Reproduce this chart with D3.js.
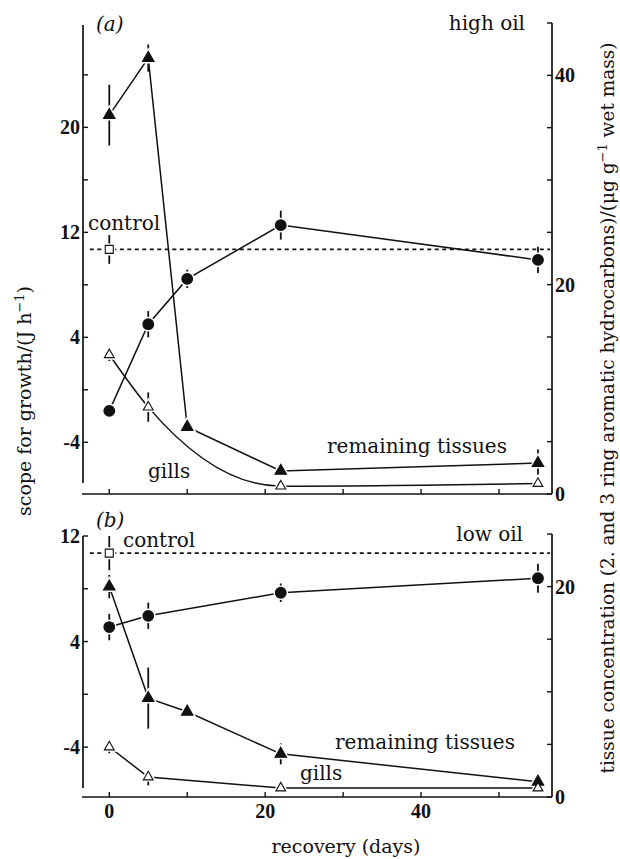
<!DOCTYPE html>
<html>
<head>
<meta charset="utf-8">
<script src="https://cdn.jsdelivr.net/npm/d3@7"></script>
<style>
  body { margin: 0; background: #fff; }
  svg text { font-family: "DejaVu Serif", serif; fill: #111; }
  .tick-label { font-family: "Liberation Serif", serif; font-weight: bold; font-size: 20px; }
</style>
</head>
<body>
<svg id="chart" width="620" height="859"></svg>
<script>
// recovery days
var days = [0, 5, 10, 22, 55];
var gillDays = [0, 5, 22, 55];
var lowScopeDays = [0, 5, 22, 55];

// (a) high oil
var highScope = [-1.6, 5.0, 8.45, 12.55, 9.9];
var highScopeErr = [0.5, 1.0, 0.7, 1.1, 1.0];
var highTissue = [36.2, 41.65, 6.4, 2.2, 2.95];
var highTissueErr = [2.9, 1.3, 0, 0, 1.3];
var highGills = [13.3, 8.3, 0.75, 1.0];
var highGillsErr = [0.6, 1.4, 0, 0];
var highControl = 10.7, highControlErr = 1.1;

// (b) low oil
var lowScope = [5.1, 5.95, 7.7, 8.8];
var lowScopeErr = [1.0, 1.0, 0.7, 1.1];
var lowTissue = [20.0, 9.4, 8.1, 4.1, 1.45];
var lowTissueErr = [1.1, 2.9, 0, 1.0, 0.8];
var lowGills = [4.75, 1.9, 0.85, 0.85];
var lowGillsErr = [0.6, 0.8, 0, 0];
var lowControl = 10.7, lowControlErr = 1.3;

// tick labels
var leftLabelsA = [20, 12, 4, -4];
var leftLabelsB = [12, 4, -4];
var rightLabelsA = [0, 20, 40];
var rightLabelsB = [0, 20];
var xLabels = [0, 20, 40];

var svg = d3.select("#chart");

var x = d3.scaleLinear().domain([-3.5, 56.8]).range([82, 552]);

function zip(xs, ys, es) {
    return xs.map(function (d, i) { return { x: d, y: ys[i], e: es ? es[i] : 0 }; });
}

function drawPanel(opt) {
    var g = svg.append("g");
    var yL = opt.yL, yR = opt.yR;

    // left axis (inward ticks)
    g.append("line").attr("x1", 83).attr("x2", 83)
        .attr("y1", yL.range()[0]).attr("y2", yL.range()[1])
        .attr("stroke", "#111").attr("stroke-width", 1.7);
    g.selectAll(".lt").data(opt.leftTicks).enter().append("line")
        .attr("x1", 83).attr("x2", 88)
        .attr("y1", function (d) { return yL(d); }).attr("y2", function (d) { return yL(d); })
        .attr("stroke", "#111").attr("stroke-width", 1.4);
    g.selectAll(".ll").data(opt.leftLabels).enter().append("text")
        .attr("class", "tick-label")
        .attr("x", 80).attr("y", function (d) { return yL(d); })
        .attr("dy", "0.35em").attr("text-anchor", "end")
        .text(function (d) { return d; });

    // right axis
    g.append("line").attr("x1", 552).attr("x2", 552)
        .attr("y1", yR.range()[0]).attr("y2", yR.range()[1])
        .attr("stroke", "#111").attr("stroke-width", 1.7);
    g.selectAll(".rt").data(opt.rightTicks).enter().append("line")
        .attr("x1", 547).attr("x2", 552)
        .attr("y1", function (d) { return yR(d); }).attr("y2", function (d) { return yR(d); })
        .attr("stroke", "#111").attr("stroke-width", 1.4);
    g.selectAll(".rl").data(opt.rightLabels).enter().append("text")
        .attr("class", "tick-label")
        .attr("x", 555).attr("y", function (d) { return yR(d); })
        .attr("dy", "0.35em")
        .text(function (d) { return d; });

    // x axis
    var xy = yR.range()[0];
    g.append("line").attr("x1", 82).attr("x2", 552)
        .attr("y1", xy).attr("y2", xy)
        .attr("stroke", "#111").attr("stroke-width", 1.7);
    g.selectAll(".xt").data(d3.range(0, 51, 10)).enter().append("line")
        .attr("x1", function (d) { return x(d); }).attr("x2", function (d) { return x(d); })
        .attr("y1", xy).attr("y2", xy - 5)
        .attr("stroke", "#111").attr("stroke-width", 1.4);
    if (opt.xLabels) {
        g.selectAll(".xl").data(opt.xLabels).enter().append("text")
            .attr("class", "tick-label")
            .attr("x", function (d) { return x(d); }).attr("y", xy + 21)
            .attr("text-anchor", "middle")
            .text(function (d) { return d; });
    }

    // control dashed line
    var cy = yL(opt.control);
    g.append("line").attr("x1", x(-2.5)).attr("x2", 550)
        .attr("y1", cy).attr("y2", cy)
        .attr("stroke", "#111").attr("stroke-width", 1.6)
        .attr("stroke-dasharray", "4,3.5");

    var series = [
        { pts: zip(opt.scopeDays, opt.scope, opt.scopeErr), y: yL, shape: "circle", curve: d3.curveLinear },
        { pts: zip(days, opt.tissue, opt.tissueErr), y: yR, shape: "tri", curve: d3.curveLinear },
        { pts: zip(gillDays, opt.gills, opt.gillsErr), y: yR, shape: "otri", curve: opt.gillCurve }
    ];

    var line = function (s) {
        return d3.line().curve(s.curve)
            .x(function (d) { return x(d.x); })
            .y(function (d) { return s.y(d.y); });
    };

    series.forEach(function (s) {
        g.append("path").attr("d", line(s)(s.pts))
            .attr("fill", "none").attr("stroke", "#111").attr("stroke-width", 1.5);
    });

    // error bars
    var bars = [];
    series.forEach(function (s) {
        s.pts.forEach(function (p) {
            if (p.e > 0) bars.push({ x: p.x, y0: s.y(p.y - p.e), y1: s.y(p.y + p.e) });
        });
    });
    bars.push({ x: 0, y0: yL(opt.control - opt.controlErr), y1: yL(opt.control + opt.controlErr) });
    g.selectAll(".eb").data(bars).enter().append("line")
        .attr("x1", function (d) { return x(d.x); }).attr("x2", function (d) { return x(d.x); })
        .attr("y1", function (d) { return d.y0; }).attr("y2", function (d) { return d.y1; })
        .attr("stroke", "#111").attr("stroke-width", 1.8);

    // markers with white halo
    var sym = {
        circle: d3.symbol().type(d3.symbolCircle).size(90),
        tri: d3.symbol().type(d3.symbolTriangle).size(58),
        otri: d3.symbol().type(d3.symbolTriangle).size(42),
        square: d3.symbol().type(d3.symbolSquare).size(64)
    };
    var marks = [];
    series.forEach(function (s) {
        s.pts.forEach(function (p) { marks.push({ cx: x(p.x), cy: s.y(p.y), shape: s.shape }); });
    });
    marks.push({ cx: x(0), cy: cy, shape: "square" });

    g.selectAll(".halo").data(marks).enter().append("path")
        .attr("transform", function (d) { return "translate(" + d.cx + "," + d.cy + ")"; })
        .attr("d", function (d) { return sym[d.shape](); })
        .attr("fill", "#fff").attr("stroke", "#fff").attr("stroke-width", 4);
    g.selectAll(".mark").data(marks).enter().append("path")
        .attr("transform", function (d) { return "translate(" + d.cx + "," + d.cy + ")"; })
        .attr("d", function (d) { return sym[d.shape](); })
        .attr("fill", function (d) { return (d.shape === "otri" || d.shape === "square") ? "#fff" : "#111"; })
        .attr("stroke", "#111").attr("stroke-width", 1.1);

    // annotations
    opt.notes.forEach(function (n) {
        g.append("text").attr("x", n.x).attr("y", n.y)
            .attr("text-anchor", n.anchor || "start")
            .style("font-size", "20px")
            .style("font-style", n.italic ? "italic" : "normal")
            .text(n.t);
    });
}

// (a) high oil
drawPanel({
    yL: d3.scaleLinear().domain([-7.1, 27.8]).range([483, 25]),
    yR: d3.scaleLinear().domain([0, 45]).range([494, 23]),
    leftTicks: d3.range(-4, 25, 4),
    leftLabels: leftLabelsA,
    rightTicks: d3.range(0, 46, 5),
    rightLabels: rightLabelsA,
    scopeDays: days, scope: highScope, scopeErr: highScopeErr,
    tissue: highTissue, tissueErr: highTissueErr,
    gills: highGills, gillsErr: highGillsErr, gillCurve: d3.curveMonotoneX,
    control: highControl, controlErr: highControlErr,
    notes: [
        { t: "(a)", x: 96, y: 31, italic: true },
        { t: "high oil", x: 525, y: 30, anchor: "end" },
        { t: "control", x: 88, y: 230 },
        { t: "remaining tissues", x: 327, y: 453 },
        { t: "gills", x: 148, y: 478 }
    ]
});

// (b) low oil
drawPanel({
    yL: d3.scaleLinear().domain([-7.1, 12]).range([788, 536]),
    yR: d3.scaleLinear().domain([0, 25]).range([797, 534]),
    leftTicks: d3.range(-4, 13, 4),
    leftLabels: leftLabelsB,
    rightTicks: d3.range(0, 26, 5),
    rightLabels: rightLabelsB,
    xLabels: xLabels,
    scopeDays: lowScopeDays, scope: lowScope, scopeErr: lowScopeErr,
    tissue: lowTissue, tissueErr: lowTissueErr,
    gills: lowGills, gillsErr: lowGillsErr, gillCurve: d3.curveLinear,
    control: lowControl, controlErr: lowControlErr,
    notes: [
        { t: "(b)", x: 96, y: 527, italic: true },
        { t: "control", x: 123, y: 547 },
        { t: "low oil", x: 523, y: 541, anchor: "end" },
        { t: "remaining tissues", x: 335, y: 749 },
        { t: "gills", x: 300, y: 780 }
    ]
});

// axis titles
svg.append("text")
    .attr("x", 346).attr("y", 853)
    .attr("text-anchor", "middle")
    .style("font-size", "19px")
    .text("recovery (days)");

var lt = svg.append("text")
    .attr("transform", "translate(31,401) rotate(-90)")
    .attr("text-anchor", "middle")
    .style("font-size", "19px");
lt.append("tspan").text("scope for growth/(J h");
lt.append("tspan").attr("dy", -7).style("font-size", "13px").text("\u22121");
lt.append("tspan").attr("dy", 7).text(")");

var rt = svg.append("text")
    .attr("transform", "translate(614,408) rotate(-90)")
    .attr("text-anchor", "middle")
    .style("font-size", "18.5px");
rt.append("tspan").text("tissue concentration (2. and 3 ring aromatic hydrocarbons)/(\u03bcg g");
rt.append("tspan").attr("dy", -7).style("font-size", "13px").text("\u22121");
rt.append("tspan").attr("dy", 7).text(" wet mass)");
</script>
</body>
</html>
